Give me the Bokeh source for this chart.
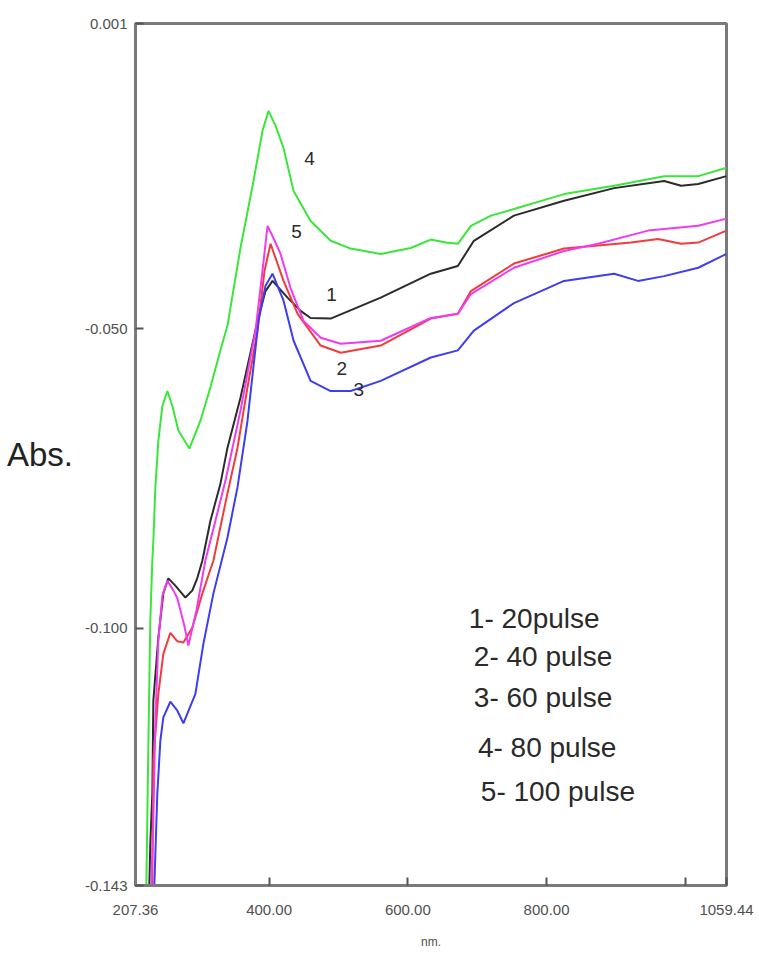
from bokeh.plotting import figure
from bokeh.models import Range1d, FixedTicker, Label
from bokeh.embed import file_html
from bokeh.resources import INLINE

# ---- data (wavelength nm, absorbance) ----
wl_20 = [227.3, 228.7, 231.6, 233.1, 240.3, 247.5, 254.7, 264.8, 279.3, 289.4, 296.6, 303.8,
         315.3, 329.8, 339.9, 358.7, 383.3, 394.8, 404.9, 426.6, 445.4, 459.8, 488.7, 560.9,
         633.1, 672.1, 695.2, 753.0, 825.2, 897.4, 969.6, 994.1, 1018.7, 1059.4]
abs_20 = [-0.1430, -0.1360, -0.1277, -0.1121, -0.1016, -0.0942, -0.0917, -0.0929, -0.0949,
          -0.0937, -0.0916, -0.0887, -0.0821, -0.0759, -0.0699, -0.0615, -0.0487, -0.0437,
          -0.0420, -0.0448, -0.0470, -0.0482, -0.0483, -0.0448, -0.0408, -0.0395, -0.0353,
          -0.0311, -0.0286, -0.0265, -0.0253, -0.0261, -0.0258, -0.0245]

wl_40 = [231.6, 233.1, 240.3, 247.5, 257.6, 267.7, 276.4, 289.4, 303.8, 319.7, 339.9, 354.4,
         368.8, 383.3, 393.4, 402.1, 420.8, 441.1, 474.3, 503.2, 560.9, 633.1, 672.1, 690.9,
         753.0, 825.2, 874.3, 921.9, 960.9, 994.1, 1018.7, 1059.4]
abs_40 = [-0.1430, -0.1221, -0.1110, -0.1043, -0.1008, -0.1022, -0.1024, -0.0999, -0.0942,
          -0.0887, -0.0775, -0.0699, -0.0598, -0.0503, -0.0403, -0.0358, -0.0420, -0.0475,
          -0.0528, -0.0540, -0.0528, -0.0483, -0.0475, -0.0437, -0.0391, -0.0366, -0.0361,
          -0.0356, -0.0350, -0.0358, -0.0356, -0.0336]

wl_60 = [234.5, 238.8, 243.2, 247.5, 257.6, 267.7, 276.4, 293.7, 305.3, 319.7, 339.9, 354.4,
         368.8, 384.7, 394.8, 404.9, 420.8, 435.3, 459.8, 488.7, 517.6, 560.9, 633.1, 672.1,
         695.2, 753.0, 825.2, 897.4, 932.0, 969.6, 1018.7, 1059.4]
abs_60 = [-0.1430, -0.1277, -0.1188, -0.1149, -0.1123, -0.1138, -0.1159, -0.1110, -0.1026,
          -0.0942, -0.0849, -0.0765, -0.0654, -0.0487, -0.0428, -0.0408, -0.0453, -0.0520,
          -0.0587, -0.0604, -0.0604, -0.0587, -0.0548, -0.0536, -0.0503, -0.0457, -0.0420,
          -0.0408, -0.0420, -0.0412, -0.0398, -0.0375]

wl_80 = [223.0, 225.8, 228.7, 231.6, 233.1, 236.0, 240.3, 246.1, 253.3, 260.5, 269.2, 285.0,
         300.9, 315.3, 329.8, 339.9, 358.7, 377.5, 390.5, 399.2, 409.3, 420.8, 435.3, 459.8,
         488.7, 517.6, 560.9, 604.2, 633.1, 654.8, 672.1, 690.9, 719.8, 753.0, 825.2, 897.4,
         969.6, 1018.7, 1059.4]
abs_80 = [-0.1430, -0.1204, -0.0988, -0.0887, -0.0854, -0.0765, -0.0687, -0.0629, -0.0604,
          -0.0629, -0.0670, -0.0700, -0.0654, -0.0598, -0.0536, -0.0495, -0.0365, -0.0253,
          -0.0169, -0.0136, -0.0161, -0.0198, -0.0270, -0.0320, -0.0353, -0.0366, -0.0375,
          -0.0365, -0.0351, -0.0356, -0.0358, -0.0328, -0.0311, -0.0300, -0.0275, -0.0261,
          -0.0245, -0.0245, -0.0231]

wl_100 = [230.2, 233.1, 236.0, 240.3, 246.1, 253.3, 261.9, 267.7, 277.8, 283.6, 295.1, 308.1,
          322.5, 337.0, 358.7, 380.4, 390.5, 397.7, 404.9, 416.5, 430.9, 449.7, 474.3, 503.2,
          560.9, 633.1, 672.1, 690.9, 753.0, 825.2, 874.3, 946.5, 1018.7, 1059.4]
abs_100 = [-0.1430, -0.1321, -0.1154, -0.1021, -0.0946, -0.0921, -0.0937, -0.0950, -0.0996,
           -0.1029, -0.0971, -0.0887, -0.0821, -0.0754, -0.0637, -0.0503, -0.0403, -0.0328,
           -0.0345, -0.0375, -0.0432, -0.0487, -0.0515, -0.0525, -0.0520, -0.0482, -0.0475,
           -0.0442, -0.0398, -0.0370, -0.0358, -0.0336, -0.0328, -0.0316]

series_colors = ["#2b2b2b", "#f23b3b", "#3d3df2", "#3ae63a", "#f03cf0"]

curve_tags = ["1", "2", "3", "4", "5"]
curve_tag_x = [490.1, 504.6, 529.2, 458.3, 439.5]
curve_tag_y = [-0.0442, -0.0567, -0.0602, -0.0215, -0.0338]

legend_texts = ["1- 20pulse", "2- 40 pulse", "3- 60 pulse", "4- 80 pulse", "5- 100 pulse"]
legend_x = [688.0, 695.2, 695.2, 701.0, 705.3]
legend_y = [-0.0984, -0.1048, -0.1116, -0.1199, -0.1273]

x_ticks = [207.36, 400, 600, 800, 1000, 1059.44]
x_tick_labels = ["207.36", "400.00", "600.00", "800.00", "", "1059.44"]
y_ticks = [-0.143, -0.1, -0.05, 0.001]
y_tick_labels = ["-0.143", "-0.100", "-0.050", "0.001"]

X_MIN, X_MAX = 207.36, 1059.44
Y_MIN, Y_MAX = -0.143, 0.001

FONT = "Liberation Sans"

p = figure(width=759, height=954, output_backend="svg", toolbar_location=None,
           x_range=Range1d(X_MIN, X_MAX), y_range=Range1d(Y_MIN, Y_MAX),
           min_border_left=135, min_border_right=33, min_border_top=23, min_border_bottom=69)
p.background_fill_color = "white"
p.border_fill_color = "white"
p.xgrid.visible = False
p.ygrid.visible = False
p.outline_line_color = "#7a7a7a"
p.outline_line_width = 3

for ax in (p.xaxis[0], p.yaxis[0]):
    ax.axis_line_color = "#7a7a7a"
    ax.axis_line_width = 3
    ax.major_tick_in = 8
    ax.major_tick_out = 0
    ax.major_tick_line_color = "#555555"
    ax.major_tick_line_width = 2
    ax.minor_tick_line_color = None
    ax.major_label_text_font = FONT
    ax.major_label_text_font_size = "15px"
    ax.major_label_text_color = "#505050"
    ax.axis_label_text_font = FONT
    ax.axis_label_text_font_style = "normal"

p.xaxis.ticker = FixedTicker(ticks=x_ticks)
p.xaxis.major_label_overrides = {t: s for t, s in zip(x_ticks, x_tick_labels)}
p.xaxis.major_label_standoff = 19
p.xaxis.axis_label = "nm."
p.xaxis.axis_label_text_font_size = "12px"
p.xaxis.axis_label_text_color = "#505050"
p.xaxis.axis_label_standoff = 17

p.yaxis.ticker = FixedTicker(ticks=y_ticks)
p.yaxis.major_label_overrides = {t: s for t, s in zip(y_ticks, y_tick_labels)}
p.yaxis.major_label_standoff = 8
p.yaxis.axis_label = "Abs."
p.yaxis.axis_label_orientation = "horizontal"
p.yaxis.axis_label_text_font_size = "33px"
p.yaxis.axis_label_text_color = "#222222"
p.yaxis.axis_label_standoff = 9

all_series = [(wl_20, abs_20), (wl_40, abs_40), (wl_60, abs_60), (wl_80, abs_80), (wl_100, abs_100)]
for (wl, ab), col in zip(all_series, series_colors):
    p.line(wl, ab, line_color=col, line_width=2)

for t, x, y in zip(curve_tags, curve_tag_x, curve_tag_y):
    p.add_layout(Label(x=x, y=y, text=t, text_font=FONT, text_font_size="19px",
                       text_color="#2a2a2a", text_align="center", text_baseline="middle"))

for t, x, y in zip(legend_texts, legend_x, legend_y):
    p.add_layout(Label(x=x, y=y, text=t, text_font=FONT, text_font_size="28px",
                       text_color="#2a2a2a", text_align="left", text_baseline="middle"))

open("out.html", "w").write(file_html(p, INLINE))
